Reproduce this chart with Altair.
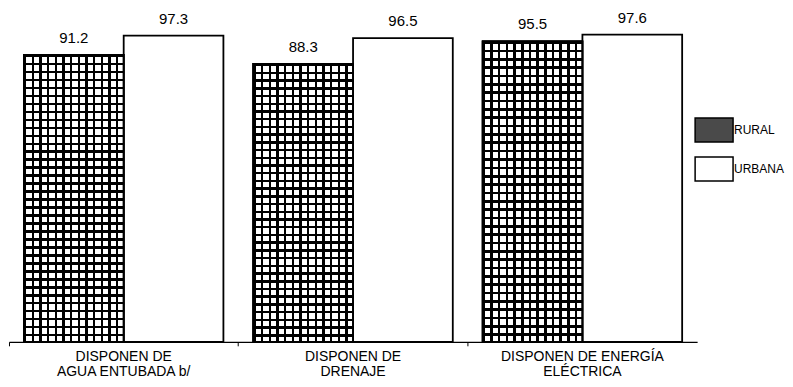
import altair as alt
import pandas as pd

categories = ["DISPONEN DE|AGUA ENTUBADA b/", "DISPONEN DE|DRENAJE", "DISPONEN DE ENERGÍA|ELÉCTRICA"]
series = ["RURAL", "URBANA"]
rural = [91.2, 88.3, 95.5]
urbana = [97.3, 96.5, 97.6]

rows = []
for c, r, u in zip(categories, rural, urbana):
    rows.append({"cat": c, "serie": "RURAL", "valor": r})
    rows.append({"cat": c, "serie": "URBANA", "valor": u})
df = pd.DataFrame(rows)

# grid pattern styles (decoration only)
def stripes(n, frac, on, off, horizontal):
    stops = []
    for i in range(n):
        a = i / n
        b = (i + frac) / n
        stops.append({"offset": a, "color": on})
        stops.append({"offset": b, "color": on})
        stops.append({"offset": b, "color": off})
        stops.append({"offset": (i + 1) / n, "color": off})
    g = {"gradient": "linear", "stops": stops}
    if horizontal:
        g.update({"x1": 0, "x2": 0, "y1": 0, "y2": 1})
    else:
        g.update({"x1": 0, "x2": 1, "y1": 0, "y2": 0})
    return g

vert = stripes(13, 0.32, "black", "white", False)
horiz = stripes(36, 0.32, "black", "rgba(0,0,0,0)", True)

x_enc = alt.X("cat:N", sort=categories,
              scale=alt.Scale(paddingInner=0, paddingOuter=0),
              axis=alt.Axis(title=None, labelAngle=0, bandPosition=0,
                            labelExpr="split(datum.label, '|')",
                            labelFont="Liberation Sans", labelFontSize=14,
                            labelColor="black", labelLineHeight=15,
                            labelPadding=4, tickSize=4, tickColor="black",
                            domainColor="black", domainWidth=1.2, grid=False))
xo_enc = alt.XOffset("serie:N", sort=series,
                     scale=alt.Scale(domain=series, paddingInner=0, paddingOuter=0.15))
y_enc = alt.Y("valor:Q", scale=alt.Scale(domain=[0, 106], nice=False, zero=True),
              axis=None)

base = alt.Chart(df)

bars = base.mark_bar(stroke="black", strokeWidth=1.8).encode(
    x=x_enc, xOffset=xo_enc, y=y_enc,
    fill=alt.Fill("serie:N", sort=series,
                  scale=alt.Scale(domain=series, range=["#4a4a4a", "white"]),
                  legend=alt.Legend(title=None, orient="none", legendX=693, legendY=109,
                                    symbolType="M-1.583,-1H1.583V1H-1.583Z",
                                    symbolSize=576, symbolStrokeColor="black",
                                    symbolStrokeWidth=1.5, labelOffset=7,
                                    labelFont="Liberation Sans", labelFontSize=12,
                                    labelColor="black", rowPadding=9, padding=0)),
)

rural_v = base.transform_filter(alt.datum.serie == "RURAL").mark_bar(
    fill=vert, stroke="black", strokeWidth=1.8).encode(x=x_enc, xOffset=xo_enc, y=y_enc)
rural_h = base.transform_filter(alt.datum.serie == "RURAL").mark_bar(
    fill=horiz, stroke="black", strokeWidth=1.8).encode(x=x_enc, xOffset=xo_enc, y=y_enc)

labels = base.mark_text(baseline="alphabetic", dy=-12, font="Liberation Sans",
                        fontSize=15, color="black").encode(
    x=x_enc, xOffset=xo_enc, y=y_enc, text=alt.Text("valor:Q", format=".1f"))

chart = alt.layer(bars, rural_v, rural_h, labels).properties(
    width=689, height=334, padding=0, background="white"
).configure_view(stroke=None)

chart.save("out.html", embed_options={"renderer": "svg", "actions": False})
